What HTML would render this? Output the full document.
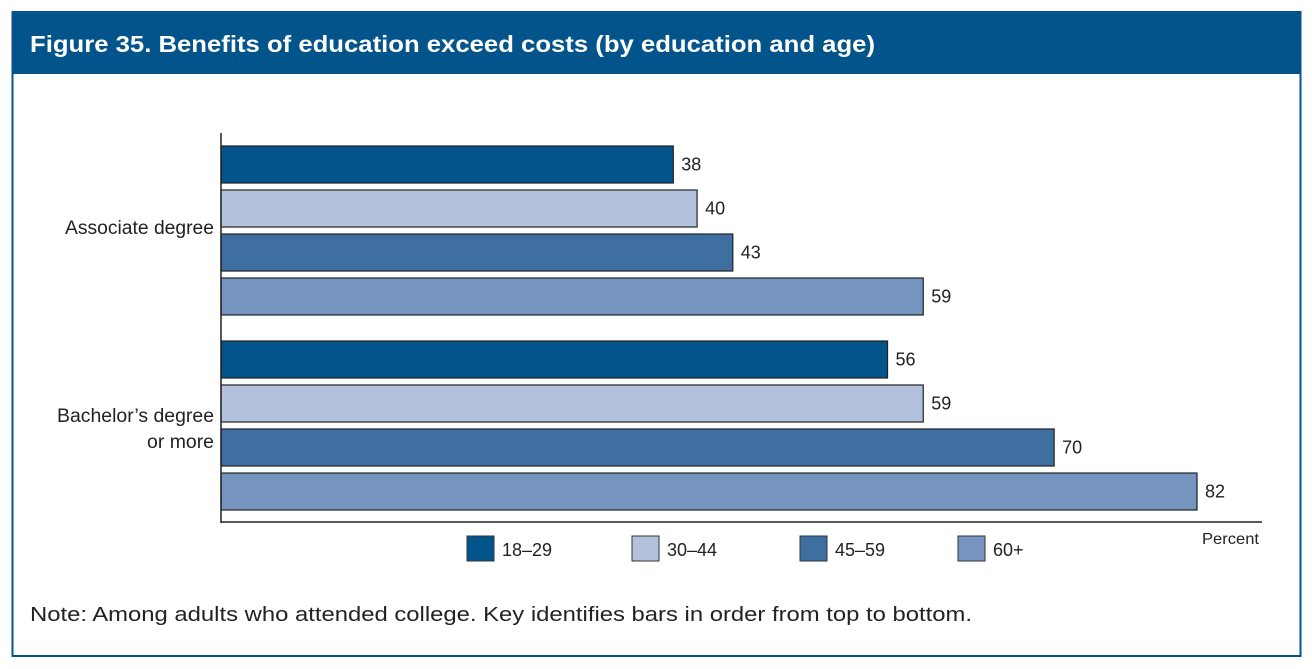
<!DOCTYPE html>
<html><head><meta charset="utf-8">
<style>
body{margin:0;background:#fff;width:1312px;height:664px;overflow:hidden;font-family:"Liberation Sans",sans-serif;}
</style></head>
<body>
<svg width="1312" height="664" xmlns="http://www.w3.org/2000/svg">
<rect x="12.5" y="12" width="1288" height="644" fill="#fff" stroke="#02548b" stroke-width="2"/>
<rect x="12" y="12" width="1289" height="62" fill="#02548b"/>
<text x="30" y="52" fill="#fff" font-size="23" font-weight="bold" textLength="845" lengthAdjust="spacingAndGlyphs">Figure 35. Benefits of education exceed costs (by education and age)</text>
<g id="chart"></g>
<line x1="221" y1="133" x2="221" y2="523" stroke="#222" stroke-width="1.5"/>
<line x1="221" y1="522" x2="1262" y2="522" stroke="#222" stroke-width="1.5"/>
<text x="1202" y="544" font-size="16" textLength="57" lengthAdjust="spacingAndGlyphs" fill="#222">Percent</text>
<text x="65" y="234" font-size="19" textLength="149" lengthAdjust="spacingAndGlyphs" fill="#222">Associate degree</text>
<text font-size="19" fill="#222"><tspan x="57" y="422" textLength="157" lengthAdjust="spacingAndGlyphs">Bachelor’s degree</tspan><tspan x="147" y="448" textLength="67" lengthAdjust="spacingAndGlyphs">or more</tspan></text>
<g id="legend"></g>
<text x="30" y="621" font-size="20" fill="#222" textLength="942" lengthAdjust="spacingAndGlyphs">Note: Among adults who attended college. Key identifies bars in order from top to bottom.</text>
</svg>
<script>
const categories = ["Associate degree", "Bachelor's degree or more"];
const series = ["18–29", "30–44", "45–59", "60+"];
const values18 = [38, 56];
const values30 = [40, 59];
const values45 = [43, 70];
const values60 = [59, 82];
const allValues = [values18, values30, values45, values60];
const colors = ["#02548b", "#b3c1dc", "#3e6fa0", "#7594bf"];
const NS = "http://www.w3.org/2000/svg";
const x0 = 221, scale = (1197 - 221) / 82;
const xPos = v => x0 + v * scale;
const groupTop = [146, 341], pitch = 44, barH = 37;
const chart = document.getElementById('chart');
categories.forEach((c, ci) => {
  series.forEach((s, si) => {
    const v = allValues[si][ci];
    const y = groupTop[ci] + si * pitch;
    const r = document.createElementNS(NS, 'rect');
    r.setAttribute('x', x0); r.setAttribute('y', y);
    r.setAttribute('width', xPos(v) - x0); r.setAttribute('height', barH);
    r.setAttribute('fill', colors[si]); r.setAttribute('stroke', '#222'); r.setAttribute('stroke-width', '1.2');
    
    
    chart.appendChild(r);
    const t = document.createElementNS(NS, 'text');
    t.setAttribute('x', xPos(v) + 8); t.setAttribute('y', y + barH / 2 + 6);
    t.setAttribute('font-size', '18'); t.setAttribute('fill', '#222');
    t.textContent = v;
    
    
    chart.appendChild(t);
  });
});
const legend = document.getElementById('legend');
const legX = [467, 632, 800, 958];
series.forEach((s, si) => {
  const r = document.createElementNS(NS, 'rect');
  r.setAttribute('x', legX[si]); r.setAttribute('y', 536);
  r.setAttribute('width', 27); r.setAttribute('height', 25);
  r.setAttribute('fill', colors[si]); r.setAttribute('stroke', '#333'); r.setAttribute('stroke-width', '1');
  
  
  legend.appendChild(r);
  const t = document.createElementNS(NS, 'text');
  t.setAttribute('x', legX[si] + 35); t.setAttribute('y', 556);
  t.setAttribute('font-size', '18'); t.setAttribute('fill', '#222');
  t.textContent = s;
  
  
  legend.appendChild(t);
});
</script>
</body></html>
